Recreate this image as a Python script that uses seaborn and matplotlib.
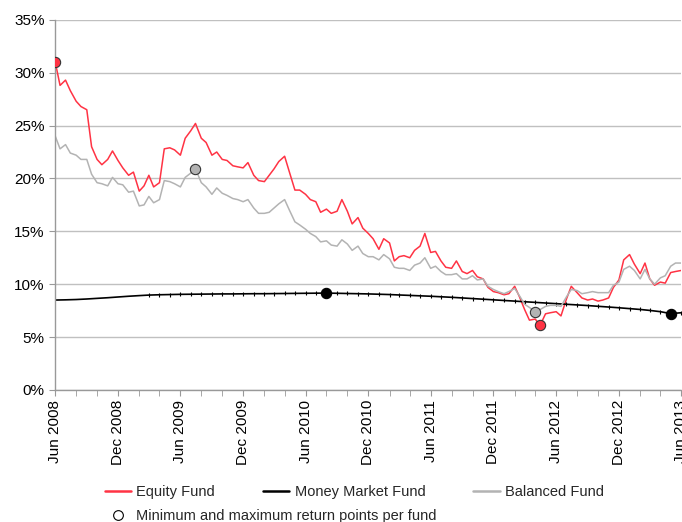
import pandas as pd
import seaborn as sns
import numpy as np
from matplotlib import pyplot as plt
import matplotlib.dates as mdates
from matplotlib.lines import Line2D

# semi-monthly readings (1st and 15th), Jun 2008 - Jun 2013
dates_half = pd.date_range('2008-06-01', '2013-06-01', freq='SMS')
dates_month = pd.date_range('2008-06-01', '2013-06-01', freq='MS')

equity = [31.0, 28.8, 29.3, 28.3, 27.3, 26.8, 26.5, 23.0, 21.8, 21.3,
          21.8, 22.6, 21.7, 21.0, 20.3, 20.6, 18.8, 19.3, 20.3, 19.2,
          19.6, 22.8, 22.9, 22.7, 22.2, 23.8, 24.5, 25.2, 23.8, 23.4,
          22.2, 22.5, 21.8, 21.7, 21.2, 21.1, 21.0, 21.5, 20.3, 19.8,
          19.7, 20.3, 20.9, 21.6, 22.1, 20.6, 18.9, 18.9, 18.5, 18.0,
          17.8, 16.8, 17.1, 16.7, 16.9, 18.0, 16.9, 15.7, 16.3, 15.3,
          14.8, 14.3, 13.3, 14.3, 13.9, 12.2, 12.6, 12.7, 12.5, 13.2,
          13.6, 14.8, 13.0, 13.1, 12.2, 11.6, 11.5, 12.2, 11.2, 11.0,
          11.3, 10.7, 10.5, 9.7, 9.3, 9.2, 9.0, 9.1, 9.8, 8.8,
          7.6, 6.6, 6.7, 6.1, 7.2, 7.3, 7.4, 7.0, 8.6, 9.8,
          9.2, 8.7, 8.5, 8.6, 8.4, 8.5, 8.7, 9.7, 10.4, 12.3,
          12.8, 11.9, 11.0, 12.0, 10.5, 9.9, 10.2, 10.1, 11.1, 11.2,
          11.3]

balanced = [24.0, 22.8, 23.2, 22.4, 22.2, 21.8, 21.8, 20.4, 19.6, 19.5,
            19.3, 20.1, 19.5, 19.4, 18.7, 18.8, 17.4, 17.5, 18.3, 17.7,
            18.0, 19.8, 19.7, 19.5, 19.2, 20.1, 20.5, 20.9, 19.6, 19.2,
            18.5, 19.1, 18.6, 18.4, 18.1, 18.0, 17.8, 18.0, 17.2, 16.7,
            16.7, 16.8, 17.2, 17.6, 18.0, 17.0, 15.9, 15.6, 15.2, 14.8,
            14.5, 14.0, 14.1, 13.7, 13.6, 14.2, 13.8, 13.2, 13.6, 12.9,
            12.6, 12.6, 12.3, 12.8, 12.4, 11.6, 11.5, 11.5, 11.3, 11.8,
            12.0, 12.5, 11.5, 11.7, 11.2, 10.9, 10.9, 11.0, 10.5, 10.5,
            10.8, 10.4, 10.5, 9.8, 9.5, 9.3, 9.1, 9.3, 9.6, 8.9,
            8.1, 7.8, 7.4, 7.6, 7.9, 8.0, 8.0, 7.9, 8.8, 9.5,
            9.4, 9.1, 9.2, 9.3, 9.2, 9.2, 9.2, 9.9, 10.2, 11.4,
            11.7, 11.3, 10.5, 11.4, 10.5, 10.0, 10.6, 10.8, 11.7, 12.0,
            12.0]

# monthly readings
money = [8.50, 8.52, 8.55, 8.60, 8.66, 8.72, 8.79, 8.86, 8.92, 8.97,
         9.00, 9.02, 9.04, 9.05, 9.06, 9.07, 9.08, 9.08, 9.09, 9.10,
         9.10, 9.11, 9.12, 9.13, 9.14, 9.15, 9.16, 9.14, 9.12, 9.10,
         9.08, 9.05, 9.02, 8.98, 8.94, 8.90, 8.86, 8.81, 8.76, 8.70,
         8.64, 8.58, 8.52, 8.46, 8.40, 8.34, 8.28, 8.22, 8.16, 8.10,
         8.04, 7.98, 7.91, 7.84, 7.77, 7.69, 7.61, 7.52, 7.40, 7.22,
         7.30]

# positions of the highlighted min / max points in each series
equity_pts = [0, 93]
balanced_pts = [27, 92]
money_pts = [26, 59]

red = '#ff3344'
grey = '#b3b3b3'

sns.set_style('white')
plt.rcParams['font.family'] = ['Liberation Sans', 'DejaVu Sans']

fig, ax = plt.subplots(figsize=(6.82, 5.22), dpi=100)
fig.subplots_adjust(left=0.081, right=0.999, bottom=0.253, top=0.962)

ax.grid(axis='y', color='#c0c0c0', lw=1)
ax.set_axisbelow(True)

sns.lineplot(x=dates_half, y=equity, color=red, lw=1.1, ax=ax)
sns.lineplot(x=dates_month, y=money, color='black', lw=1.2, ax=ax)
ax.plot(dates_month[9:], money[9:], ls='none', marker='|', ms=3, color='black', mew=0.8)
sns.lineplot(x=dates_half, y=balanced, color=grey, lw=1.1, ax=ax)

eq = np.array(equity)
ba = np.array(balanced)
mo = np.array(money)
ax.scatter(dates_half[equity_pts], eq[equity_pts], s=55, color=red, edgecolor='#333333', lw=0.8, zorder=5)
ax.scatter(dates_half[balanced_pts], ba[balanced_pts], s=55, color=grey, edgecolor='#333333', lw=0.8, zorder=5)
ax.scatter(dates_month[money_pts], mo[money_pts], s=55, color='black', edgecolor='black', lw=0.8, zorder=5)

ax.set_xlim(pd.Timestamp('2008-06-01'), pd.Timestamp('2013-06-01'))
ax.xaxis.set_major_locator(mdates.MonthLocator(bymonth=[6, 12]))
ax.xaxis.set_major_formatter(mdates.DateFormatter('%b %Y'))
ax.xaxis.set_minor_locator(mdates.MonthLocator(bymonth=[2, 4, 6, 8, 10, 12]))
ax.set_ylim(0, 35)
ax.set_yticks(range(0, 36, 5))
ax.set_yticklabels([f'{v}%' for v in range(0, 36, 5)])
ax.set_xlabel('')
ax.set_ylabel('')

for lab in ax.get_xticklabels():
    lab.set_rotation(90)
ax.tick_params(axis='both', which='both', direction='out', length=4, color='#999999',
               labelsize=11, labelcolor='black', left=True, bottom=True)
ax.tick_params(axis='x', pad=3)

sns.despine(ax=ax)
for s in ['left', 'bottom']:
    ax.spines[s].set_color('#999999')
    ax.spines[s].set_linewidth(1)

line_handles = [Line2D([], [], color=red, lw=1.8),
                Line2D([], [], color='black', lw=1.8),
                Line2D([], [], color=grey, lw=1.8)]
leg1 = fig.legend(line_handles, ['Equity Fund', 'Money Market Fund', 'Balanced Fund'],
                  loc='center left', bbox_to_anchor=(105 / 682, 1 - 492 / 522), ncol=3,
                  frameon=False, fontsize=10.5, handlelength=1.8, handletextpad=0.35,
                  columnspacing=3.3, borderpad=0, borderaxespad=0)
marker_handle = Line2D([], [], ls='none', marker='o', mfc='white', mec='black', ms=7, mew=0.8)
fig.legend([marker_handle], ['Minimum and maximum return points per fund'],
           loc='center left', bbox_to_anchor=(105 / 682, 1 - 516 / 522),
           frameon=False, fontsize=10.5, handlelength=1.8, handletextpad=0.35,
           borderpad=0, borderaxespad=0)

plt.savefig('out.png', dpi=100)
